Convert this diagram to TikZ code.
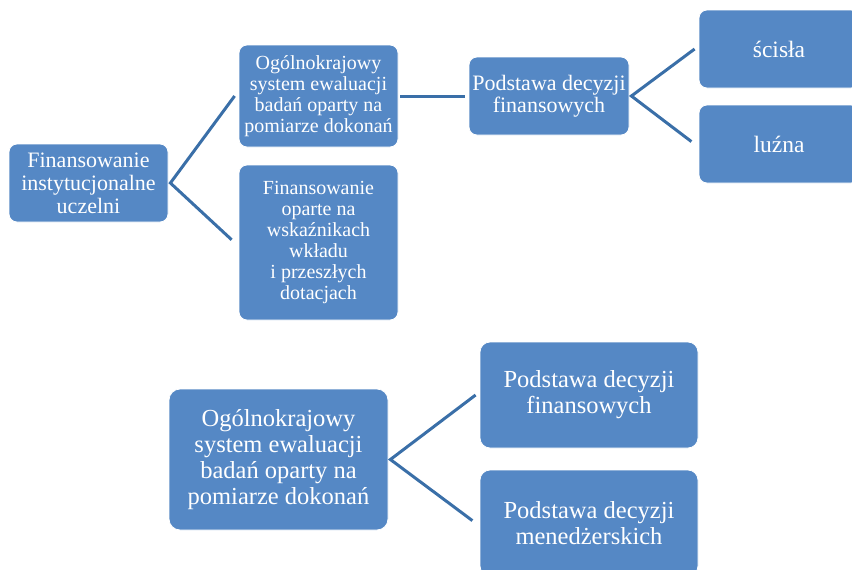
\documentclass[tikz,border=0pt]{standalone}
\usepackage{fontspec}
\setmainfont{Liberation Serif}
\usetikzlibrary{calc}
\definecolor{boxblue}{HTML}{5588C5}
\definecolor{lineblue}{HTML}{3A6FA8}
\begin{document}
\begin{tikzpicture}[x=1pt,y=-1pt,
  box/.style={rectangle, rounded corners=8pt, fill=boxblue, draw=white, line width=0.8pt,
    text=white, align=center, inner sep=0pt},
  conn/.style={draw=lineblue, line width=3pt, shorten >=4pt},
  fa/.style={font=\fontsize{22}{23}\selectfont},
  fb/.style={font=\fontsize{20}{21}\selectfont},
  fd/.style={font=\fontsize{22}{22}\selectfont},
  fe/.style={font=\fontsize{23.5}{25}\selectfont},
  fg/.style={font=\fontsize{24.5}{26}\selectfont}]
\useasboundingbox (0,0) rectangle (852,570);
\clip (0,0) rectangle (852,570);
% top tree
\node[box, fa, minimum width=159pt, minimum height=78pt] (a) at (88.5,183) {Finansowanie\\instytucjonalne\\uczelni};
\node[box, fb, minimum width=159pt, minimum height=102pt] (b) at (318.5,96) {Ogólnokrajowy\\system ewaluacji\\badań oparty na\\pomiarze dokonań};
\node[box, fb, minimum width=159pt, minimum height=155pt] (c) at (318.5,242.5) {Finansowanie\\oparte na\\wskaźnikach\\wkładu\\i przeszłych\\dotacjach};
\node[box, fd, minimum width=160pt, minimum height=78pt] (d) at (549,96) {Podstawa decyzji\\finansowych};
\node[box, fe, minimum width=160pt, minimum height=78pt] (e) at (779,49) {ścisła};
\node[box, fe, minimum width=160pt, minimum height=78pt] (f) at (779,144) {luźna};
\draw[conn] ([xshift=-4pt]b.west) -- ([xshift=2pt]a.east) -- ([xshift=-4pt]c.west);
\draw[conn, shorten <=2pt] (b.east) -- (d.west);
\draw[conn] ([xshift=-4pt]e.west) -- ([xshift=2pt]d.east) -- ([xshift=-4pt]f.west);
% bottom tree
\node[box, fg, rounded corners=11pt, minimum width=219pt, minimum height=141pt] (g) at (278.5,459.5) {Ogólnokrajowy\\system ewaluacji\\badań oparty na\\pomiarze dokonań};
\node[box, fg, rounded corners=10pt, minimum width=218pt, minimum height=106pt] (h) at (589,395) {Podstawa decyzji\\finansowych};
\node[box, fg, rounded corners=10pt, minimum width=218pt, minimum height=106pt] (i) at (589,523) {Podstawa decyzji\\menedżerskich};
\draw[conn] ([xshift=-4pt]h.west) -- ([xshift=2pt]g.east) -- ([xshift=-4pt]i.west);
\end{tikzpicture}
\end{document}
